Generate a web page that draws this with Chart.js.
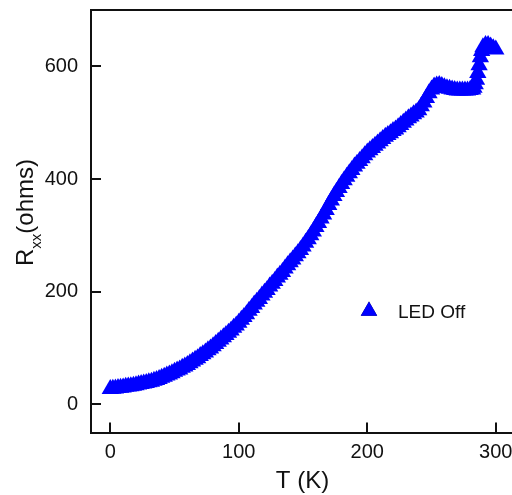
<!DOCTYPE html>
<html>
<head>
<meta charset="utf-8">
<script src="https://cdn.jsdelivr.net/npm/chart.js@4/dist/chart.umd.min.js"></script>
<style>
  html, body { margin: 0; padding: 0; background: #fff; overflow: hidden; }
  #wrap { width: 540px; height: 495px; }
</style>
</head>
<body>
<div id="wrap"><canvas id="c" width="540" height="495"></canvas></div>
<script>
// ---- data ----
const T_VALUES = [0,2,4,6,8,10,12,14,16,18,20,22,24,26,28,30,32,34,36,38,40,42,44,46,48,50,52,54,56,58,60,62,64,66,68,70,72,74,76,78,80,82,84,86,88,90,92,94,96,98,100,102,104,106,108,110,112,114,116,118,120,122,124,126,128,130,132,134,136,138,140,142,144,146,148,150,152,154,156,158,160,162,164,166,168,170,172,174,176,178,180,182,184,186,188,190,192,194,196,198,200,202,204,206,208,210,212,214,216,218,220,222,224,226,228,230,232,234,236,238,240,242,244,246,248,250,252,254,256,258,260,262,264,266,268,270,272,274,276,278,280,282,283,284,285,286,287,288,289,290,292,294,296,298,300];
const R_VALUES = [27,27.5,28,29,29.5,30,31,31.5,32,33,34,35,36,37,38,39,40,42,43,45,47,49,51,53,55,58,60,62,65,67,70,73,76,79,82,86,89,92,96,99,103,107,111,115,119,123,127,131,136,140,145,150,155,160,166,171,177,182,187,193,198,203,209,214,219,225,230,235,241,247,252,257,263,268,274,280,287,293,300,307,315,322,330,337,345,354,362,370,377,384,391,398,404,410,416,422,427,432,437,442,447,451,455,459,463,467,471,475,478,481,485,488,492,496,500,504,508,511,515,518,522,529,536,544,552,559,564,566,567,565,563,561,560,559,558,557,557,557,557,557,558,559,562,568,576,588,602,616,627,634,638,638,635,632,630];
const X_TICKS = [0, 100, 200, 300];
const Y_TICKS = [0, 200, 400, 600];
const SERIES_LABEL = 'LED Off';
const X_TITLE = 'T (K)';
const Y_TITLE_MAIN = 'R';
const Y_TITLE_SUB = 'xx';
const Y_TITLE_REST = '(ohms)';

const FONT = '"Liberation Sans", Arial, Helvetica, sans-serif';
const INK = '#111111';
const BLUE = '#0000ff';

const points = T_VALUES.map((t, i) => ({ x: t, y: R_VALUES[i] }));

const decorPlugin = {
  id: 'decor',
  afterDraw(chart) {
    const ctx = chart.ctx;
    const a = chart.chartArea;
    const xs = chart.scales.x, ys = chart.scales.y;
    ctx.save();
    ctx.strokeStyle = INK;
    ctx.lineWidth = 2;
    // top frame line
    ctx.beginPath();
    ctx.moveTo(a.left - 1, a.top);
    ctx.lineTo(chart.width, a.top);
    ctx.stroke();
    // inward tick marks
    const TL = 10;
    ctx.beginPath();
    X_TICKS.forEach(v => {
      const px = Math.round(xs.getPixelForValue(v));
      ctx.moveTo(px, a.bottom);
      ctx.lineTo(px, a.bottom - TL);
    });
    Y_TICKS.forEach(v => {
      const py = Math.round(ys.getPixelForValue(v));
      ctx.moveTo(a.left, py);
      ctx.lineTo(a.left + TL, py);
    });
    ctx.stroke();

    // x axis title
    ctx.fillStyle = INK;
    ctx.font = '24px ' + FONT;
    ctx.textAlign = 'center';
    ctx.textBaseline = 'alphabetic';
    ctx.fillText(X_TITLE, (a.left + 512) / 2 + 1, 488);

    // y axis title with subscript
    ctx.save();
    ctx.translate(33, 266);
    ctx.rotate(-Math.PI / 2);
    ctx.textAlign = 'left';
    ctx.font = '24px ' + FONT;
    ctx.fillText(Y_TITLE_MAIN, 0, 0);
    let w = ctx.measureText(Y_TITLE_MAIN).width;
    ctx.font = '15px ' + FONT;
    ctx.fillText(Y_TITLE_SUB, w, 8);
    w += ctx.measureText(Y_TITLE_SUB).width;
    ctx.font = '24px ' + FONT;
    ctx.fillText(Y_TITLE_REST, w, 0);
    ctx.restore();

    // legend
    const lx = a.left + 278, ly = 311;
    Chart.helpers.drawPoint(ctx, { pointStyle: 'triangle', radius: 9.5, rotation: 0, borderWidth: 0 }, lx, ly);
    ctx.fillStyle = BLUE;
    ctx.beginPath();
    const r = 9.5;
    ctx.moveTo(lx, ly - r);
    ctx.lineTo(lx + r * Math.sin(2 * Math.PI / 3), ly - r * Math.cos(2 * Math.PI / 3));
    ctx.lineTo(lx + r * Math.sin(4 * Math.PI / 3), ly - r * Math.cos(4 * Math.PI / 3));
    ctx.closePath();
    ctx.fill();
    ctx.fillStyle = INK;
    ctx.font = '19px ' + FONT;
    ctx.textAlign = 'left';
    ctx.fillText(SERIES_LABEL, lx + 29, 318);
    ctx.restore();
  }
};

new Chart(document.getElementById('c'), {
  type: 'scatter',
  data: {
    datasets: [{
      label: SERIES_LABEL,
      data: points,
      pointStyle: 'triangle',
      pointRadius: 10,
      pointHoverRadius: 10,
      pointBorderWidth: 0,
      borderWidth: 0,
      backgroundColor: BLUE,
      pointBackgroundColor: BLUE,
      borderColor: BLUE,
      showLine: false
    }]
  },
  options: {
    responsive: false,
    animation: false,
    devicePixelRatio: 1,
    layout: { padding: { top: 9, right: 18.5, left: 0, bottom: 0 } },
    plugins: { legend: { display: false }, tooltip: { enabled: false } },
    scales: {
      x: {
        type: 'linear',
        min: -15, max: 320,
        grid: { display: false, drawTicks: false },
        border: { display: true, color: INK, width: 2 },
        ticks: { color: INK, font: { size: 20, family: FONT }, padding: 8, includeBounds: false },
        afterBuildTicks(s) { s.ticks = X_TICKS.map(v => ({ value: v })); },
        afterFit(s) { s.height = 62.5; s.paddingLeft = 0; s.paddingRight = 0; }
      },
      y: {
        type: 'linear',
        min: -50, max: 700,
        grid: { display: false, drawTicks: false },
        border: { display: true, color: INK, width: 2 },
        ticks: { color: INK, font: { size: 20, family: FONT }, padding: 13, includeBounds: false },
        afterBuildTicks(s) { s.ticks = Y_TICKS.map(v => ({ value: v })); },
        afterFit(s) { s.width = 91; s.paddingTop = 0; s.paddingBottom = 0; }
      }
    }
  },
  plugins: [decorPlugin]
});
</script>
</body>
</html>
